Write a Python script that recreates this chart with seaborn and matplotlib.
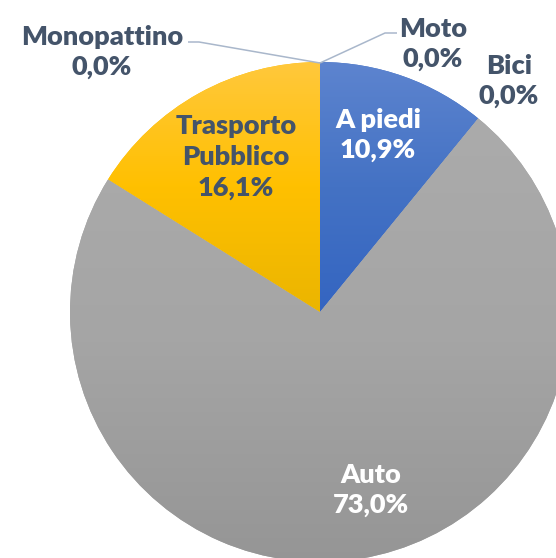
import numpy as np
import matplotlib
matplotlib.use("Agg")
import matplotlib.pyplot as plt
from matplotlib.colors import LinearSegmentedColormap
import seaborn as sns

# ---- data ----
categories = ["Moto", "A piedi", "Bici", "Auto", "Trasporto\nPubblico", "Monopattino"]
values = [0.0, 10.9, 0.0, 73.0, 16.1, 0.0]
pct_labels = ["0,0%", "10,9%", "0,0%", "73,0%", "16,1%", "0,0%"]

# gradient colours (top, middle, bottom) per slice
grad_colors = [
    ["#a5a5a5", "#a5a5a5", "#a5a5a5"],
    ["#5d84cf", "#4472c4", "#3465c1"],
    ["#a5a5a5", "#a5a5a5", "#a5a5a5"],
    ["#ababab", "#a5a5a5", "#959595"],
    ["#ffc83c", "#ffc000", "#ebb500"],
    ["#a5a5a5", "#a5a5a5", "#a5a5a5"],
]

sns.set_style("white")
plt.rcParams["font.family"] = ["Lato", "DejaVu Sans"]

W, H = 556, 558
CX, CY, R = 320, 312, 250   # pie centre / radius in pixels


def px(x, y):
    return (x - CX) / R, (CY - y) / R


fig = plt.figure(figsize=(W / 100, H / 100), dpi=100)
ax = fig.add_axes([0, 0, 1, 1])
ax.set_axis_off()

wedges, _ = ax.pie(values, startangle=90, counterclock=False,
                   colors=[c[1] for c in grad_colors],
                   wedgeprops=dict(linewidth=0))

# gradient fills clipped to each wedge
for w, v, cols in zip(wedges, values, grad_colors):
    if v <= 0:
        continue
    verts = w.get_path().vertices
    xmin, xmax = verts[:, 0].min(), verts[:, 0].max()
    ymin, ymax = verts[:, 1].min(), verts[:, 1].max()
    cmap = LinearSegmentedColormap.from_list("g", cols[::-1])
    grad = np.linspace(0, 1, 256).reshape(-1, 1)
    im = ax.imshow(grad, extent=[xmin, xmax, ymin, ymax], origin="lower",
                   cmap=cmap, aspect="auto", interpolation="bilinear", zorder=2)
    im.set_clip_path(w)

ax.set_xlim((0 - CX) / R, (W - CX) / R)
ax.set_ylim((CY - H) / R, CY / R)

dark = "#44546a"
fs = 19.5
ls = 1.33

# label layout: (pixel x, pixel y, colour)
label_layout = {
    "Moto": (433, 44, dark),
    "A piedi": (378, 135, "white"),
    "Bici": (509, 81, dark),
    "Auto": (371, 490, "white"),
    "Trasporto\nPubblico": (236, 157, dark),
    "Monopattino": (102, 52, dark),
}
for cat, pct in zip(categories, pct_labels):
    x, y, c = label_layout[cat]
    ax.text(*px(x, y), f"{cat}\n{pct}", ha="center", va="center",
            multialignment="center", fontsize=fs, fontweight="heavy",
            color=c, linespacing=ls, zorder=5)

# leader lines
line_col = "#a9b7cb"
for pts in ([(188, 42), (199, 42), (320, 63)], [(320, 63), (385, 33), (397, 33)]):
    xs, ys = zip(*[px(*p) for p in pts])
    ax.plot(xs, ys, color=line_col, lw=1.1, zorder=4, solid_capstyle="butt")

fig.savefig("out.png", dpi=100)
